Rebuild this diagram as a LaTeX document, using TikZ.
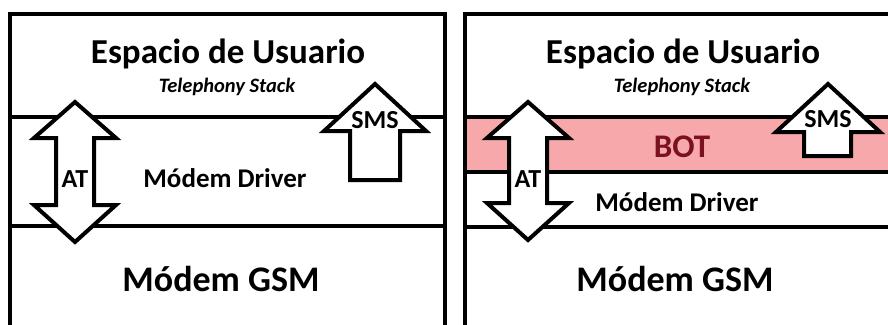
\documentclass[tikz,border=0pt]{standalone}
\usepackage{fontspec}
\setmainfont{Carlito}
\definecolor{botpink}{HTML}{F7A8AA}
\definecolor{botred}{HTML}{7B1020}
\tikzset{
  x=1pt, y=-1pt,
  frame/.style={line width=4.5pt, draw=black},
  bigarrow/.style={line width=4pt, draw=black, fill=white, line join=miter},
  heading/.style={font=\bfseries\fontsize{35}{35}\selectfont, anchor=base, inner sep=0pt},
  subtitle/.style={font=\bfseries\itshape\fontsize{20.5}{20.5}\selectfont, anchor=base, inner sep=0pt},
  layertxt/.style={font=\bfseries\fontsize{27}{27}\selectfont, anchor=base, inner sep=0pt},
  tagtxt/.style={font=\bfseries\fontsize{26}{26}\selectfont, anchor=base, inner sep=0pt},
}
\begin{document}
\begin{tikzpicture}
\useasboundingbox (0,0) rectangle (888,324);
\clip (0,0) rectangle (888,324);
\fill[white] (0,0) rectangle (888,324);

% ---------- left stack ----------
\draw[frame] (10,340) -- (10,14) -- (445,14) -- (445,340);
\draw[frame] (10,117) -- (445,117);
\draw[frame] (10,226) -- (445,226);

\node[heading]  (lu)  at (228,63)  {Espacio de Usuario};
\node[subtitle] (lts) at (227,92)  {Telephony Stack};
\node[layertxt] (ld)  at (225,187) {Módem Driver};
\node[heading, font=\bfseries\fontsize{36}{36}\selectfont] (lg) at (221,291) {Módem GSM};

% AT double arrow
\draw[bigarrow] (75,102) -- (116,138) -- (94,138) -- (94,205) -- (116,205)
  -- (75,242) -- (34,205) -- (56,205) -- (56,138) -- (34,138) -- cycle;
\node[tagtxt] (lat) at (75,187) {AT};

% SMS arrow
\draw[bigarrow] (375,84) -- (426,131) -- (400,131) -- (400,180) -- (350,180)
  -- (350,131) -- (324,131) -- cycle;
\node[tagtxt] (lsms) at (375,128) {SMS};

% ---------- right stack ----------
\fill[botpink] (465,117) rectangle (890,172);
\draw[frame] (465,340) -- (465,14) -- (890,14);
\draw[frame] (465,117) -- (890,117);
\draw[frame] (465,172) -- (890,172);
\draw[frame] (465,227) -- (890,227);

\node[heading]  (ru)  at (683,63)  {Espacio de Usuario};
\node[subtitle] (rts) at (682,92)  {Telephony Stack};
\node[heading, text=botred, font=\bfseries\fontsize{33}{33}\selectfont] (rb) at (682,157) {BOT};
\node[layertxt] (rd)  at (677,211) {Módem Driver};
\node[heading, font=\bfseries\fontsize{36}{36}\selectfont] (rg) at (675,291) {Módem GSM};

% AT double arrow
\draw[bigarrow] (528,102) -- (569,138) -- (547,138) -- (547,203) -- (569,203)
  -- (528,240) -- (487,203) -- (509,203) -- (509,138) -- (487,138) -- cycle;
\node[tagtxt] (rat) at (528,187) {AT};

% SMS arrow
\draw[bigarrow] (828,84) -- (880,132) -- (851,132) -- (851,156) -- (804,156)
  -- (804,132) -- (776,132) -- cycle;
\node[tagtxt] (rsms) at (828,127) {SMS};
\end{tikzpicture}
\end{document}
